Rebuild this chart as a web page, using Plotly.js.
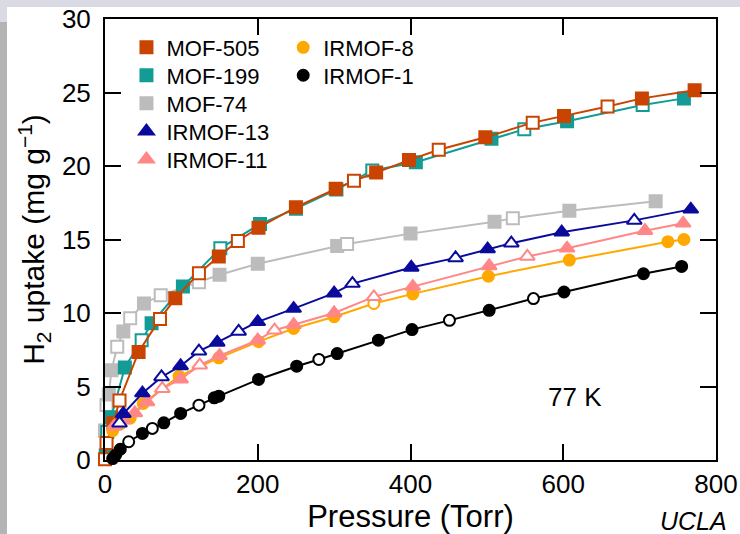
<!DOCTYPE html>
<html>
<head>
<meta charset="utf-8">
<script src="https://cdn.plot.ly/plotly-3.0.1.min.js"></script>
<style>
  html, body { margin:0; padding:0; width:740px; height:534px; overflow:hidden; background:#dadae4; }
  #strip { position:absolute; left:0; top:22px; width:7px; height:512px; background:#b4b4b4; }
  #chart { position:absolute; left:7px; top:7px; width:733px; height:527px; background:#fff; }
</style>
</head>
<body>
<div id="strip"></div>
<div id="chart"></div>
<script>
// ---- data (pressure in Torr, uptake in mg/g); open = 1 for hollow markers ----
const seriesNames = ["MOF-505","MOF-199","MOF-74","IRMOF-13","IRMOF-11","IRMOF-8","IRMOF-1"];

const mof505_x = [0,2,11,19,44,72,92,123,149,174,201,250,302,326,355,398,437,498,560,601,658,703,772];
const mof505_y = [0.05,1.15,2.5,4.05,7.35,9.6,11.0,12.7,13.85,14.9,15.8,17.2,18.45,19.0,19.55,20.4,21.1,21.95,22.95,23.4,24.05,24.6,25.15];
const mof505_open = [1,1,0,1,0,1,0,1,0,1,0,0,0,1,0,0,1,0,1,0,1,0,0];

const mof199_x = [1,3,8,26,48,61,102,151,203,250,303,350,407,506,549,605,704,758];
const mof199_y = [0.3,1.9,2.9,6.3,8.15,9.3,11.8,14.4,16.05,17.1,18.4,19.7,20.25,21.85,22.5,23.05,24.15,24.6];
const mof199_open = [0,1,0,0,1,0,0,1,0,0,0,1,0,0,1,0,1,0];

const mof74_x = [0,2,5,8.5,16,24,33,51,73,123,150,200,304,317,400,510,534,608,721];
const mof74_y = [2.0,3.75,4.45,6.1,7.7,8.75,9.65,10.65,11.2,12.1,12.6,13.35,14.55,14.7,15.4,16.2,16.45,16.95,17.6];
const mof74_open = [0,1,0,0,1,0,1,0,1,1,0,0,0,1,0,0,1,0,0];

const irmof13_x = [19,24,49,74,99,123,147,175,200,247,300,324,401,459,501,532,598,693,767];
const irmof13_y = [2.5,3.15,4.55,5.65,6.4,7.4,8.0,8.75,9.4,10.3,11.35,12.0,13.1,13.75,14.35,14.75,15.5,16.3,17.05];
const irmof13_open = [1,0,0,1,0,1,0,1,0,0,0,1,0,1,0,1,0,1,0];

const irmof11_x = [12,24,39,55,75,99,124,150,200,222,247,300,352,403,503,553,605,707,757];
const irmof11_y = [2.3,2.7,3.2,3.95,4.85,5.5,6.45,7.1,8.15,8.83,9.2,10.0,11.1,11.8,13.2,13.85,14.4,15.6,16.1];
const irmof11_open = [0,0,0,0,1,0,1,0,0,1,0,0,1,0,0,1,0,0,0];

const irmof8_x = [10,20,33,50,97,149,201,247,300,352,403,502,608,737,758];
const irmof8_y = [2.0,2.45,2.85,3.85,5.7,6.95,8.05,8.95,9.75,10.65,11.3,12.5,13.6,14.85,15.0];
const irmof8_open = [0,0,0,0,0,0,0,0,0,1,0,0,0,0,0];

const irmof1_x = [10,14,20,31,49,62,77,99,123,143,149,201,251,280,304,358,402,451,503,561,601,705,755];
const irmof1_y = [0.1,0.34,0.73,1.24,1.81,2.15,2.53,3.17,3.73,4.23,4.34,5.48,6.38,6.84,7.24,8.15,8.87,9.5,10.18,10.98,11.43,12.67,13.17];
const irmof1_open = [0,0,0,1,0,1,0,0,1,0,0,0,0,1,0,0,0,1,0,1,0,0,0];

const xTicks = [0,200,400,600,800];
const yTicks = [0,5,10,15,20,25,30];
const tempLabel = "77 K";
const creditLabel = "UCLA";

// ---- styling ----
const FONT = "Liberation Sans, Arial, Helvetica, sans-serif";
const styles = {
  "MOF-505":  {color:"#c94400", symbol:"square",      size:12},
  "MOF-199":  {color:"#139c96", symbol:"square",      size:12},
  "MOF-74":   {color:"#bcbcbc", symbol:"square",      size:12},
  "IRMOF-13": {color:"#0a0a9c", symbol:"triangle-up", size:13},
  "IRMOF-11": {color:"#ff8787", symbol:"triangle-up", size:13},
  "IRMOF-8":  {color:"#ffa800", symbol:"circle",      size:11},
  "IRMOF-1":  {color:"#000000", symbol:"circle",      size:11}
};
const dataMap = {
  "MOF-505":[mof505_x,mof505_y,mof505_open],
  "MOF-199":[mof199_x,mof199_y,mof199_open],
  "MOF-74":[mof74_x,mof74_y,mof74_open],
  "IRMOF-13":[irmof13_x,irmof13_y,irmof13_open],
  "IRMOF-11":[irmof11_x,irmof11_y,irmof11_open],
  "IRMOF-8":[irmof8_x,irmof8_y,irmof8_open],
  "IRMOF-1":[irmof1_x,irmof1_y,irmof1_open]
};
// draw order (bottom to top)
const drawOrder = ["MOF-74","MOF-199","MOF-505","IRMOF-8","IRMOF-11","IRMOF-13","IRMOF-1"];

const traces = [];
drawOrder.forEach(name => {
  const [xs, ys, op] = dataMap[name];
  const s = styles[name];
  traces.push({
    type:"scatter", mode:"lines+markers", name:name, x:xs, y:ys,
    showlegend:false, cliponaxis:false, hoverinfo:"x+y+name",
    line:{color:s.color, width:2},
    marker:{symbol:s.symbol, size:s.size,
            color: op.map(o => o ? "#ffffff" : s.color),
            line:{color:s.color, width:2}}
  });
});

// legend placement (page pixels -> paper coords of plot area)
const PX0 = 104.5, PX1 = 716.5, PY0 = 460, PY1 = 18.5;
const px2x = p => (p - PX0) / (PX1 - PX0);
const py2y = p => (PY0 - p) / (PY0 - PY1);
const legendCols = [[0,1,2,3,4],[5,6]];
const colLeft = [126, 283];
const layoutLegends = {};
let li = 0;
legendCols.forEach((col, ci) => {
  col.forEach((idx, ri) => {
    const name = seriesNames[idx];
    const s = styles[name];
    const key = li === 0 ? "legend" : "legend" + (li + 1);
    traces.push({
      type:"scatter", mode:"markers", name:name, x:[null], y:[null],
      legend:key, showlegend:true, hoverinfo:"skip",
      marker:{symbol:s.symbol, size:s.size, color:s.color, line:{color:s.color, width:2}}
    });
    layoutLegends[key] = {
      x: px2x(colLeft[ci]), y: py2y(26 + 28*ri), xanchor:"left", yanchor:"top",
      bgcolor:"rgba(0,0,0,0)", borderwidth:0,
      font:{family:FONT, size:22, color:"#000"}
    };
    li++;
  });
});

const axisCommon = {
  showline:true, linecolor:"#000", linewidth:2, mirror:"ticks",
  ticks:"inside", ticklen:16, tickwidth:2, tickcolor:"#000",
  showgrid:false, zeroline:false, fixedrange:true, ticklabeloverflow:"allow",
  tickfont:{family:FONT, size:26, color:"#000"}
};

const layout = Object.assign({
  width:733, height:527,
  margin:{l:PX0-7, r:740-PX1, t:PY1-7, b:534-PY0, autoexpand:false},
  paper_bgcolor:"#ffffff", plot_bgcolor:"#ffffff",
  font:{family:FONT, color:"#000"},
  xaxis:Object.assign({}, axisCommon, {
    range:[0,800], tickvals:xTicks, ticktext:xTicks.map(String), ticklabelstandoff:0,
    title:{text:"Pressure (Torr)", font:{family:FONT, size:31, color:"#000"}, standoff:4}
  }),
  yaxis:Object.assign({}, axisCommon, {
    range:[0,30], tickvals:yTicks, ticktext:yTicks.map(String), ticklabelstandoff:7,
    title:{text:"H<sub>2</sub> uptake (mg g<sup>\u22121</sup>)", font:{family:FONT, size:30, color:"#000"}, standoff:8}
  }),
  annotations:[
    {text:tempLabel, xref:"paper", yref:"paper", x:px2x(575), y:py2y(397), xanchor:"center", yanchor:"middle",
     showarrow:false, font:{family:FONT, size:26, color:"#000"}},
    {text:"<i>"+creditLabel+"</i>", xref:"paper", yref:"paper", x:px2x(694), y:py2y(521), xanchor:"center", yanchor:"middle",
     showarrow:false, font:{family:FONT, size:25, color:"#000"}}
  ]
}, layoutLegends);

Plotly.newPlot("chart", traces, layout, {displayModeBar:false, staticPlot:true});
</script>
</body>
</html>
